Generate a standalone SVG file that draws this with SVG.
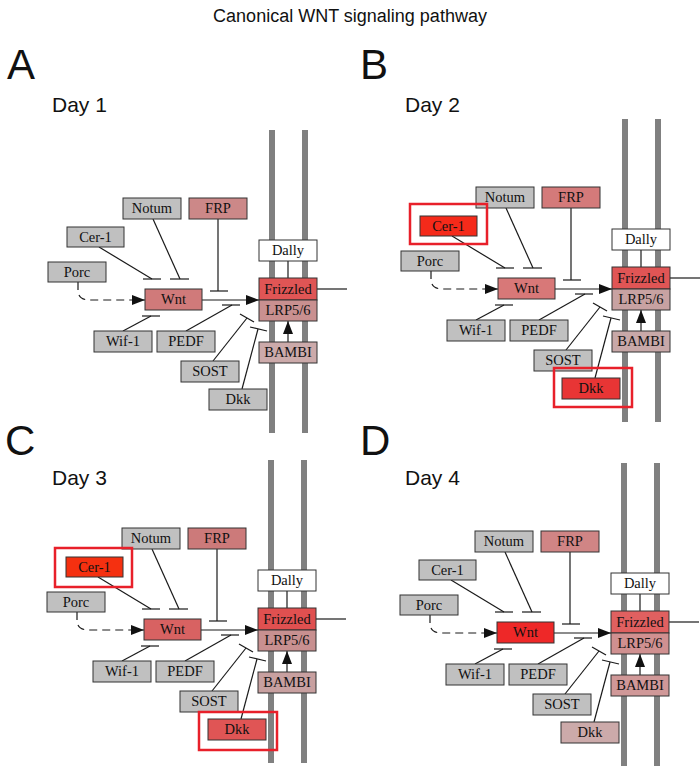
<svg xmlns="http://www.w3.org/2000/svg" width="700" height="772" viewBox="0 0 700 772">
<defs>
<style>
.lbl{font-family:'Liberation Sans',Arial,sans-serif;fill:#111}
.big{font-size:42px}
.day{font-size:21px}
.mem{fill:#808080}
.n rect{stroke:#333;stroke-width:1}
.n text{font-family:'Liberation Serif','DejaVu Serif',serif;font-size:14.5px;text-anchor:middle;fill:#111}
.g{fill:#c0c0c0}
.w{fill:#ffffff}
.c line,.c path{stroke:#1a1a1a;stroke-width:1.2;fill:none}
.hl{fill:none;stroke:#e8202a;stroke-width:2.5}
</style>
<marker id="ah" markerUnits="userSpaceOnUse" markerWidth="14" markerHeight="12" refX="13" refY="6" orient="auto">
<path d="M0,1 L13,6 L0,11 z" fill="#111"/>
</marker>
</defs>
<rect width="700" height="772" fill="#fff"/>
<text class="lbl" x="350" y="22" font-size="18" text-anchor="middle">Canonical WNT signaling pathway</text>
<text class="lbl big" x="7" y="79">A</text>
<text class="lbl big" x="360" y="79">B</text>
<text class="lbl big" x="5" y="455">C</text>
<text class="lbl big" x="360" y="455">D</text>
<text class="lbl day" x="52" y="112">Day 1</text>
<text class="lbl day" x="405" y="112">Day 2</text>
<text class="lbl day" x="52" y="485">Day 3</text>
<text class="lbl day" x="405" y="485">Day 4</text>

<!-- Panel A -->
<g id="panelA">
<g id="A-membrane"><rect class="mem" x="269" y="130" width="6" height="303"/><rect class="mem" x="302" y="130" width="6" height="303"/></g>
<g id="A-connectors" class="c">
<path d="M78,282 L78,290 Q78,300 90,300 L145,300" stroke-dasharray="8,5" marker-end="url(#ah)"/>
<line x1="202" y1="300" x2="259" y2="300" marker-end="url(#ah)"/>
<line x1="288" y1="342" x2="288" y2="321" marker-end="url(#ah)"/>
<line x1="288" y1="261" x2="288" y2="278"/>
<line x1="317" y1="289" x2="347" y2="289"/>
<line x1="99" y1="247" x2="152" y2="279"/><line x1="143" y1="279" x2="161" y2="279"/>
<line x1="153" y1="219" x2="180" y2="279"/><line x1="170" y1="279" x2="189" y2="279"/>
<line x1="218" y1="219" x2="218" y2="291"/><line x1="210" y1="291" x2="228" y2="291"/>
<line x1="123" y1="331" x2="151" y2="316"/><line x1="142" y1="316" x2="160" y2="316"/>
<line x1="186" y1="331" x2="232" y2="305"/><line x1="222" y1="305" x2="240" y2="305"/>
<line x1="213" y1="361" x2="247" y2="318"/><line x1="240" y1="314" x2="254" y2="322"/>
<line x1="242" y1="389" x2="258" y2="329"/><line x1="250" y1="327" x2="267" y2="331"/>
</g>
<g id="A-notum" class="n"><rect class="g" x="123" y="198" width="58" height="21"/><text x="152" y="213">Notum</text></g>
<g id="A-frp" class="n"><rect fill="#cc8888" x="189" y="198" width="58" height="21"/><text x="218" y="213">FRP</text></g>
<g id="A-cer1" class="n"><rect class="g" x="67" y="227" width="57" height="20"/><text x="95.5" y="242">Cer-1</text></g>
<g id="A-porc" class="n"><rect class="g" x="48" y="262" width="58" height="20"/><text x="77" y="277">Porc</text></g>
<g id="A-wnt" class="n"><rect fill="#d07a7a" x="145" y="289" width="57" height="21"/><text x="173.5" y="304">Wnt</text></g>
<g id="A-dally" class="n"><rect class="w" x="259" y="240" width="58" height="21"/><text x="288" y="255">Dally</text></g>
<g id="A-frizzled" class="n"><rect fill="#e05555" x="259" y="278" width="58" height="22"/><text x="288" y="294">Frizzled</text></g>
<g id="A-lrp" class="n"><rect fill="#c99090" x="259" y="300" width="58" height="21"/><text x="288" y="315">LRP5/6</text></g>
<g id="A-bambi" class="n"><rect fill="#ccaaaa" x="259" y="342" width="58" height="21"/><text x="288" y="357">BAMBI</text></g>
<g id="A-wif1" class="n"><rect class="g" x="94" y="331" width="58" height="21"/><text x="123" y="346">Wif-1</text></g>
<g id="A-pedf" class="n"><rect class="g" x="157" y="331" width="58" height="21"/><text x="186" y="346">PEDF</text></g>
<g id="A-sost" class="n"><rect class="g" x="181" y="361" width="58" height="21"/><text x="210" y="376">SOST</text></g>
<g id="A-dkk" class="n"><rect class="g" x="209" y="389" width="58" height="21"/><text x="238" y="404">Dkk</text></g>
</g>

<!-- Panel B -->
<g id="panelB" transform="translate(353,-11)">
<g id="B-membrane"><rect class="mem" x="269" y="130" width="6" height="303"/><rect class="mem" x="302" y="130" width="6" height="303"/></g>
<g id="B-connectors" class="c">
<path d="M78,282 L78,290 Q78,300 90,300 L145,300" stroke-dasharray="8,5" marker-end="url(#ah)"/>
<line x1="202" y1="300" x2="259" y2="300" marker-end="url(#ah)"/>
<line x1="288" y1="342" x2="288" y2="321" marker-end="url(#ah)"/>
<line x1="288" y1="261" x2="288" y2="278"/>
<line x1="317" y1="289" x2="347" y2="289"/>
<line x1="99" y1="247" x2="152" y2="279"/><line x1="143" y1="279" x2="161" y2="279"/>
<line x1="153" y1="219" x2="180" y2="279"/><line x1="170" y1="279" x2="189" y2="279"/>
<line x1="218" y1="219" x2="218" y2="291"/><line x1="210" y1="291" x2="228" y2="291"/>
<line x1="123" y1="331" x2="151" y2="316"/><line x1="142" y1="316" x2="160" y2="316"/>
<line x1="186" y1="331" x2="232" y2="305"/><line x1="222" y1="305" x2="240" y2="305"/>
<line x1="213" y1="361" x2="247" y2="318"/><line x1="240" y1="314" x2="254" y2="322"/>
<line x1="242" y1="389" x2="258" y2="329"/><line x1="250" y1="327" x2="267" y2="331"/>
</g>
<g id="B-notum" class="n"><rect class="g" x="123" y="198" width="58" height="21"/><text x="152" y="213">Notum</text></g>
<g id="B-frp" class="n"><rect fill="#d47a7a" x="189" y="198" width="58" height="21"/><text x="218" y="213">FRP</text></g>
<g id="B-cer1" class="n"><rect fill="#f52a1a" x="67" y="227" width="57" height="20"/><text x="95.5" y="242">Cer-1</text></g>
<g id="B-porc" class="n"><rect class="g" x="48" y="262" width="58" height="20"/><text x="77" y="277">Porc</text></g>
<g id="B-wnt" class="n"><rect fill="#d87878" x="145" y="289" width="57" height="21"/><text x="173.5" y="304">Wnt</text></g>
<g id="B-dally" class="n"><rect class="w" x="259" y="240" width="58" height="21"/><text x="288" y="255">Dally</text></g>
<g id="B-frizzled" class="n"><rect fill="#e05555" x="259" y="278" width="58" height="22"/><text x="288" y="294">Frizzled</text></g>
<g id="B-lrp" class="n"><rect fill="#c8a2a2" x="259" y="300" width="58" height="21"/><text x="288" y="315">LRP5/6</text></g>
<g id="B-bambi" class="n"><rect fill="#c8a8a8" x="259" y="342" width="58" height="21"/><text x="288" y="357">BAMBI</text></g>
<g id="B-wif1" class="n"><rect class="g" x="94" y="331" width="58" height="21"/><text x="123" y="346">Wif-1</text></g>
<g id="B-pedf" class="n"><rect class="g" x="157" y="331" width="58" height="21"/><text x="186" y="346">PEDF</text></g>
<g id="B-sost" class="n"><rect class="g" x="181" y="361" width="58" height="21"/><text x="210" y="376">SOST</text></g>
<g id="B-dkk" class="n"><rect fill="#e83535" x="209" y="389" width="58" height="21"/><text x="238" y="404">Dkk</text></g>
<rect class="hl" x="57" y="215" width="77" height="40"/>
<rect class="hl" x="201" y="379" width="78" height="39"/>
</g>

<!-- Panel C -->
<g id="panelC" transform="translate(-1,330)">
<g id="C-membrane"><rect class="mem" x="269" y="130" width="6" height="303"/><rect class="mem" x="302" y="130" width="6" height="303"/></g>
<g id="C-connectors" class="c">
<path d="M78,282 L78,290 Q78,300 90,300 L145,300" stroke-dasharray="8,5" marker-end="url(#ah)"/>
<line x1="202" y1="300" x2="259" y2="300" marker-end="url(#ah)"/>
<line x1="288" y1="342" x2="288" y2="321" marker-end="url(#ah)"/>
<line x1="288" y1="261" x2="288" y2="278"/>
<line x1="317" y1="289" x2="347" y2="289"/>
<line x1="99" y1="247" x2="152" y2="279"/><line x1="143" y1="279" x2="161" y2="279"/>
<line x1="153" y1="219" x2="180" y2="279"/><line x1="170" y1="279" x2="189" y2="279"/>
<line x1="218" y1="219" x2="218" y2="291"/><line x1="210" y1="291" x2="228" y2="291"/>
<line x1="123" y1="331" x2="151" y2="316"/><line x1="142" y1="316" x2="160" y2="316"/>
<line x1="186" y1="331" x2="232" y2="305"/><line x1="222" y1="305" x2="240" y2="305"/>
<line x1="213" y1="361" x2="247" y2="318"/><line x1="240" y1="314" x2="254" y2="322"/>
<line x1="242" y1="389" x2="258" y2="329"/><line x1="250" y1="327" x2="267" y2="331"/>
</g>
<g id="C-notum" class="n"><rect class="g" x="123" y="198" width="58" height="21"/><text x="152" y="213">Notum</text></g>
<g id="C-frp" class="n"><rect fill="#cc7a7a" x="189" y="198" width="58" height="21"/><text x="218" y="213">FRP</text></g>
<g id="C-cer1" class="n"><rect fill="#f53010" x="67" y="227" width="57" height="20"/><text x="95.5" y="242">Cer-1</text></g>
<g id="C-porc" class="n"><rect class="g" x="48" y="262" width="58" height="20"/><text x="77" y="277">Porc</text></g>
<g id="C-wnt" class="n"><rect fill="#d86262" x="145" y="289" width="57" height="21"/><text x="173.5" y="304">Wnt</text></g>
<g id="C-dally" class="n"><rect class="w" x="259" y="240" width="58" height="21"/><text x="288" y="255">Dally</text></g>
<g id="C-frizzled" class="n"><rect fill="#e05050" x="259" y="278" width="58" height="22"/><text x="288" y="294">Frizzled</text></g>
<g id="C-lrp" class="n"><rect fill="#c89090" x="259" y="300" width="58" height="21"/><text x="288" y="315">LRP5/6</text></g>
<g id="C-bambi" class="n"><rect fill="#c8a0a0" x="259" y="342" width="58" height="21"/><text x="288" y="357">BAMBI</text></g>
<g id="C-wif1" class="n"><rect class="g" x="94" y="331" width="58" height="21"/><text x="123" y="346">Wif-1</text></g>
<g id="C-pedf" class="n"><rect class="g" x="157" y="331" width="58" height="21"/><text x="186" y="346">PEDF</text></g>
<g id="C-sost" class="n"><rect class="g" x="181" y="361" width="58" height="21"/><text x="210" y="376">SOST</text></g>
<g id="C-dkk" class="n"><rect fill="#e05555" x="209" y="389" width="58" height="21"/><text x="238" y="404">Dkk</text></g>
<rect class="hl" x="56" y="218" width="77" height="39"/>
<rect class="hl" x="200" y="382" width="78" height="38"/>
</g>

<!-- Panel D -->
<g id="panelD" transform="translate(352,333)">
<g id="D-membrane"><rect class="mem" x="269" y="130" width="6" height="303"/><rect class="mem" x="302" y="130" width="6" height="303"/></g>
<g id="D-connectors" class="c">
<path d="M78,282 L78,290 Q78,300 90,300 L145,300" stroke-dasharray="8,5" marker-end="url(#ah)"/>
<line x1="202" y1="300" x2="259" y2="300" marker-end="url(#ah)"/>
<line x1="288" y1="342" x2="288" y2="321" marker-end="url(#ah)"/>
<line x1="288" y1="261" x2="288" y2="278"/>
<line x1="317" y1="289" x2="347" y2="289"/>
<line x1="99" y1="247" x2="152" y2="279"/><line x1="143" y1="279" x2="161" y2="279"/>
<line x1="153" y1="219" x2="180" y2="279"/><line x1="170" y1="279" x2="189" y2="279"/>
<line x1="218" y1="219" x2="218" y2="291"/><line x1="210" y1="291" x2="228" y2="291"/>
<line x1="123" y1="331" x2="151" y2="316"/><line x1="142" y1="316" x2="160" y2="316"/>
<line x1="186" y1="331" x2="232" y2="305"/><line x1="222" y1="305" x2="240" y2="305"/>
<line x1="213" y1="361" x2="247" y2="318"/><line x1="240" y1="314" x2="254" y2="322"/>
<line x1="242" y1="389" x2="258" y2="329"/><line x1="250" y1="327" x2="267" y2="331"/>
</g>
<g id="D-notum" class="n"><rect class="g" x="123" y="198" width="58" height="21"/><text x="152" y="213">Notum</text></g>
<g id="D-frp" class="n"><rect fill="#d08585" x="189" y="198" width="58" height="21"/><text x="218" y="213">FRP</text></g>
<g id="D-cer1" class="n"><rect class="g" x="67" y="227" width="57" height="20"/><text x="95.5" y="242">Cer-1</text></g>
<g id="D-porc" class="n"><rect class="g" x="48" y="262" width="58" height="20"/><text x="77" y="277">Porc</text></g>
<g id="D-wnt" class="n"><rect fill="#ee2828" x="145" y="289" width="57" height="21"/><text x="173.5" y="304">Wnt</text></g>
<g id="D-dally" class="n"><rect class="w" x="259" y="240" width="58" height="21"/><text x="288" y="255">Dally</text></g>
<g id="D-frizzled" class="n"><rect fill="#e06060" x="259" y="278" width="58" height="22"/><text x="288" y="294">Frizzled</text></g>
<g id="D-lrp" class="n"><rect fill="#d09090" x="259" y="300" width="58" height="21"/><text x="288" y="315">LRP5/6</text></g>
<g id="D-bambi" class="n"><rect fill="#d09898" x="259" y="342" width="58" height="21"/><text x="288" y="357">BAMBI</text></g>
<g id="D-wif1" class="n"><rect class="g" x="94" y="331" width="58" height="21"/><text x="123" y="346">Wif-1</text></g>
<g id="D-pedf" class="n"><rect class="g" x="157" y="331" width="58" height="21"/><text x="186" y="346">PEDF</text></g>
<g id="D-sost" class="n"><rect class="g" x="181" y="361" width="58" height="21"/><text x="210" y="376">SOST</text></g>
<g id="D-dkk" class="n"><rect fill="#ccaaaa" x="209" y="389" width="58" height="21"/><text x="238" y="404">Dkk</text></g>
</g>
</svg>
